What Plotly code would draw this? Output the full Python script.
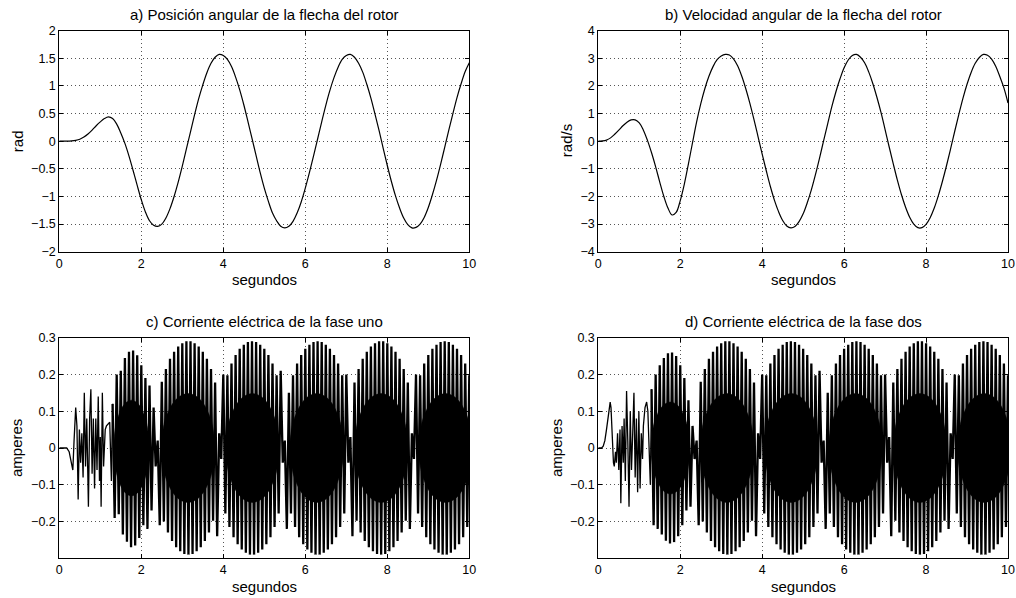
import plotly.graph_objects as go

W, H = 1016, 598

# ---------------- data ----------------
t_smooth = [round(0.1 * i, 1) for i in range(101)]

pos = [0, 0, 0.0, 0.005, 0.015, 0.035, 0.075, 0.13, 0.20, 0.28,
       0.35, 0.41, 0.44, 0.41, 0.31, 0.15, -0.04, -0.27, -0.53, -0.80,
       -1.06, -1.28, -1.44, -1.52, -1.54, -1.50, -1.39, -1.22, -1.00, -0.74,
       -0.45, -0.14, 0.17, 0.48, 0.77, 1.02, 1.24, 1.41, 1.52, 1.57,
       1.55, 1.48, 1.35, 1.16, 0.93, 0.66, 0.36, 0.05, -0.26, -0.57,
       -0.85, -1.09, -1.30, -1.44, -1.54, -1.57, -1.54, -1.45, -1.30, -1.10,
       -0.85, -0.57, -0.27, 0.04, 0.35, 0.65, 0.92, 1.15, 1.34, 1.48,
       1.55, 1.57, 1.52, 1.41, 1.25, 1.03, 0.78, 0.49, 0.19, -0.13,
       -0.44, -0.73, -0.99, -1.21, -1.39, -1.51, -1.57, -1.56, -1.50, -1.38,
       -1.20, -0.97, -0.71, -0.42, -0.11, 0.20, 0.50, 0.79, 1.04, 1.26,
       1.42]

vel = [0, 0.01, 0.04, 0.12, 0.25, 0.40, 0.56, 0.69, 0.77, 0.77,
       0.66, 0.40, 0.03, -0.42, -0.93, -1.48, -2.00, -2.42, -2.67, -2.58,
       -2.15, -1.55, -0.82, -0.05, 0.70, 1.35, 1.90, 2.35, 2.70, 2.95,
       3.08, 3.14, 3.12, 2.98, 2.73, 2.36, 1.90, 1.37, 0.78, 0.16,
       -0.47, -1.07, -1.64, -2.14, -2.55, -2.87, -3.07, -3.14, -3.09, -2.91,
       -2.63, -2.23, -1.76, -1.21, -0.61, 0.02, 0.64, 1.25, 1.79, 2.26,
       2.66, 2.94, 3.10, 3.14, 3.04, 2.84, 2.51, 2.09, 1.59, 1.04,
       0.42, -0.21, -0.82, -1.41, -1.94, -2.39, -2.75, -3.00, -3.13, -3.13,
       -3.01, -2.77, -2.42, -1.97, -1.45, -0.88, -0.27, 0.36, 0.97, 1.55,
       2.06, 2.49, 2.82, 3.03, 3.14, 3.11, 2.97, 2.71, 2.34, 1.93,
       1.38]

# phase currents: irregular start (explicit times) ...
i1_early_t = [0, 0.18, 0.24, 0.30, 0.33, 0.36, 0.40, 0.43, 0.46, 0.49,
              0.52, 0.55, 0.58, 0.61, 0.64, 0.67, 0.71, 0.74, 0.77, 0.80,
              0.83, 0.86, 0.89, 0.92, 0.95, 0.98, 1.00, 1.02, 1.05, 1.08,
              1.12, 1.15, 1.20, 1.23, 1.27]
i1_early_v = [0, 0, -0.01, -0.05, -0.06, 0.02, 0.11, 0.06, -0.14, 0.05,
              -0.04, 0.04, -0.08, 0.15, -0.05, 0.08, -0.16, 0.08, 0.16, -0.07,
              0.08, -0.11, 0.08, -0.06, 0.14, -0.09, 0.03, -0.16, 0.15, -0.05,
              0.05, 0.06, 0.065, 0.07, -0.09]

i2_early_t = [0, 0.08, 0.12, 0.16, 0.20, 0.24, 0.27, 0.29, 0.31, 0.34,
              0.37, 0.39, 0.42, 0.44, 0.47, 0.50, 0.53, 0.55, 0.58, 0.61,
              0.63, 0.66, 0.69, 0.72, 0.75, 0.78, 0.81, 0.84, 0.87, 0.90,
              0.93, 0.96, 0.99, 1.02, 1.05, 1.08, 1.10, 1.14, 1.18, 1.21,
              1.24, 1.27]
i2_early_v = [0, 0, 0.005, 0.02, 0.05, 0.09, 0.12, 0.125, 0.11, 0.03,
              -0.04, -0.05, -0.01, -0.04, 0.04, -0.06, 0.05, -0.15, 0.06, -0.04,
              0.08, -0.09, 0.155, 0.02, -0.16, 0.10, -0.06, 0.04, 0.15, -0.08,
              0.08, -0.12, 0.10, -0.11, 0.04, -0.03, 0.06, 0.11, 0.125, 0.10,
              -0.02, -0.10]

# ... then samples every 0.05 s, from t = 1.30 s (sample index 26) to 10 s
dt_samp = 0.05
first_idx = 26
i1_lobe1 = [0.12, -0.19, 0.20, -0.18, 0.21, -0.235, 0.245, -0.255, 0.262, -0.27,
            0.265, -0.265, 0.252, -0.245, 0.225, -0.21, 0.19, -0.22, 0.17, -0.17,
            0.11, -0.05]
i2_lobe1 = [0.16, -0.21, 0.20, -0.22, 0.225, -0.235, 0.245, -0.252, 0.258, -0.26,
            0.26, -0.256, 0.25, -0.24, 0.225, -0.21, 0.19, -0.17, 0.13, -0.16,
            0.06, -0.03]
i_tail = [0.02, -0.21, 0.18, -0.20, 0.215, -0.23, 0.243, -0.253, 0.262, -0.27,
          0.276, -0.281, 0.285, -0.288, 0.29, -0.29, 0.29, -0.288, 0.285, -0.281,
          0.276, -0.27, 0.262, -0.253, 0.243, -0.23, 0.215, -0.198, 0.178, -0.24,
          0.04, -0.03, 0.20, -0.178, 0.198, -0.215, 0.23, -0.243, 0.253, -0.262,
          0.27, -0.276, 0.281, -0.285, 0.288, -0.29, 0.29, -0.29, 0.288, -0.285,
          0.281, -0.276, 0.27, -0.262, 0.253, -0.243, 0.23, -0.215, 0.198, -0.178,
          0.21, -0.04, 0.02, -0.22, 0.15, -0.178, 0.198, -0.215, 0.23, -0.243,
          0.253, -0.262, 0.27, -0.276, 0.281, -0.285, 0.288, -0.29, 0.29, -0.29,
          0.288, -0.285, 0.281, -0.276, 0.27, -0.262, 0.253, -0.243, 0.23, -0.215,
          0.198, -0.178, 0.20, -0.04, 0.03, -0.24, 0.178, -0.198, 0.215, -0.23,
          0.243, -0.253, 0.262, -0.27, 0.276, -0.281, 0.285, -0.288, 0.29, -0.29,
          0.29, -0.288, 0.285, -0.281, 0.276, -0.27, 0.262, -0.253, 0.243, -0.23,
          0.215, -0.198, 0.178, -0.22, 0.04, -0.03, 0.20, -0.178, 0.198, -0.215,
          0.23, -0.243, 0.253, -0.262, 0.27, -0.276, 0.281, -0.285, 0.288, -0.29,
          0.29, -0.29, 0.288, -0.285, 0.281, -0.276, 0.27, -0.262, 0.253, -0.243,
          0.23, -0.215, 0.198]

# dense dark core of each current lobe
core1_center = [1.76, 3.14, 4.71, 6.28, 7.85, 9.42]
core1_halfw = [0.43, 0.65, 0.65, 0.65, 0.65, 0.65]
core1_height = [0.13, 0.148, 0.148, 0.148, 0.148, 0.148]
core2_center = [1.76, 3.14, 4.71, 6.28, 7.85, 9.42]
core2_halfw = [0.47, 0.65, 0.65, 0.65, 0.65, 0.65]
core2_height = [0.125, 0.148, 0.148, 0.148, 0.148, 0.148]
core_shape_dt = [-1, -0.97, -0.92, -0.85, -0.69, -0.54, -0.31, 0, 0.31, 0.54, 0.69, 0.85, 0.92, 0.97, 1]
core_shape_amp = [0, 0.24, 0.39, 0.53, 0.72, 0.84, 0.95, 1, 0.95, 0.84, 0.72, 0.53, 0.39, 0.24, 0]

x_ticks = [0, 2, 4, 6, 8, 10]
ya_ticks = [-2, -1.5, -1, -0.5, 0, 0.5, 1, 1.5, 2]
yb_ticks = [-4, -3, -2, -1, 0, 1, 2, 3, 4]
yc_ticks = [-0.2, -0.1, 0, 0.1, 0.2, 0.3]

titles = ["a) Posición angular de la flecha del rotor",
          "b) Velocidad angular de la flecha del rotor",
          "c) Corriente eléctrica de la fase uno",
          "d) Corriente eléctrica de la fase dos"]
ylabels = ["rad", "rad/s", "amperes", "amperes"]
xlabel = "segundos"

# ---------------- build ----------------
samp_t = [round((first_idx + k) * dt_samp, 2) for k in range(len(i1_lobe1) + len(i_tail))]
i1_lobes_v = i1_lobe1 + i_tail
i2_lobes_v = i2_lobe1 + i_tail


def core_polys(centers, halfw, heights):
    xs, ys = [], []
    for c, hw, h in zip(centers, halfw, heights):
        up_x = [c + d * hw for d in core_shape_dt]
        up_y = [a * h for a in core_shape_amp]
        xs += up_x + up_x[::-1] + [None]
        ys += up_y + [-a for a in up_y[::-1]] + [None]
    return xs, ys


fig = go.Figure()
smooth_line = dict(color="black", width=1.2, shape="spline")
thin_line = dict(color="black", width=1.3)
thick_line = dict(color="black", width=2.3)
fig.add_trace(go.Scatter(x=t_smooth, y=pos, mode="lines", line=smooth_line,
                         xaxis="x", yaxis="y", showlegend=False))
fig.add_trace(go.Scatter(x=t_smooth, y=vel, mode="lines", line=smooth_line,
                         xaxis="x2", yaxis="y2", showlegend=False))
for (cx, cy), ax_x, ax_y in [(core_polys(core1_center, core1_halfw, core1_height), "x3", "y3"),
                             (core_polys(core2_center, core2_halfw, core2_height), "x4", "y4")]:
    fig.add_trace(go.Scatter(x=cx, y=cy, mode="lines", fill="toself", fillcolor="black",
                             line=dict(color="black", width=0.5, shape="spline"),
                             xaxis=ax_x, yaxis=ax_y, showlegend=False, hoverinfo="skip"))
for et, ev, lv, ax_x, ax_y in [(i1_early_t, i1_early_v, i1_lobes_v, "x3", "y3"),
                               (i2_early_t, i2_early_v, i2_lobes_v, "x4", "y4")]:
    # irregular start drawn thin, lobes drawn with heavier strokes (shared joint point)
    fig.add_trace(go.Scatter(x=et + samp_t[:1], y=ev + lv[:1], mode="lines", line=thin_line,
                             xaxis=ax_x, yaxis=ax_y, showlegend=False))
    fig.add_trace(go.Scatter(x=samp_t, y=lv, mode="lines", line=thick_line,
                             xaxis=ax_x, yaxis=ax_y, showlegend=False))

FONT = "Liberation Sans, Arial, Helvetica, sans-serif"


def px_x(v):
    return v / W


def px_y(v):
    return 1 - v / H


def axis(domain, rng, tickvals, anchor):
    return dict(domain=domain, range=rng, tickvals=tickvals, anchor=anchor, automargin=False,
                showline=True, linecolor="black", linewidth=1, mirror="ticks",
                ticks="inside", ticklen=4, tickwidth=1, tickcolor="black",
                showgrid=True, gridcolor="#555555", griddash="1px,3px", gridwidth=1,
                zeroline=False, tickfont=dict(family=FONT, size=12.5, color="black"))


L1, R1, L2, R2 = 59.3, 469.3, 598.3, 1008
T1, B1, T2, B2 = 30.7, 251.7, 337.7, 558.3
dxl = [px_x(L1), px_x(R1)]
dxr = [px_x(L2), px_x(R2)]
dyt = [px_y(B1), px_y(T1)]
dyb = [px_y(B2), px_y(T2)]

fig.update_layout(
    width=W, height=H, margin=dict(l=0, r=0, t=0, b=0, pad=0, autoexpand=False),
    paper_bgcolor="white", plot_bgcolor="white",
    xaxis=axis(dxl, [0, 10], x_ticks, "y"),
    yaxis=axis(dyt, [-2, 2], ya_ticks, "x"),
    xaxis2=axis(dxr, [0, 10], x_ticks, "y2"),
    yaxis2=axis(dyt, [-4, 4], yb_ticks, "x2"),
    xaxis3=axis(dxl, [0, 10], x_ticks, "y3"),
    yaxis3=axis(dyb, [-0.3, 0.3], yc_ticks, "x3"),
    xaxis4=axis(dxr, [0, 10], x_ticks, "y4"),
    yaxis4=axis(dyb, [-0.3, 0.3], yc_ticks, "x4"),
)

ann = []
centers_x = [(L1 + R1) / 2, (L2 + R2) / 2, (L1 + R1) / 2, (L2 + R2) / 2]
title_y = [15, 15, 321.5, 321.5]
xlab_y = [279, 279, 586, 586]
ylab_x = [17, 566, 17, 557]
ylab_y = [(T1 + B1) / 2, (T1 + B1) / 2, (T2 + B2) / 2, (T2 + B2) / 2]
for i in range(4):
    ann.append(dict(text=titles[i], x=px_x(centers_x[i]), y=px_y(title_y[i]), xref="paper", yref="paper",
                    xanchor="center", yanchor="middle", showarrow=False,
                    font=dict(family=FONT, size=15, color="black")))
    ann.append(dict(text=xlabel, x=px_x(centers_x[i]), y=px_y(xlab_y[i]), xref="paper", yref="paper",
                    xanchor="center", yanchor="middle", showarrow=False,
                    font=dict(family=FONT, size=15, color="black")))
    ann.append(dict(text=ylabels[i], x=px_x(ylab_x[i]), y=px_y(ylab_y[i]), xref="paper", yref="paper",
                    xanchor="center", yanchor="middle", showarrow=False, textangle=-90,
                    font=dict(family=FONT, size=15, color="black")))
fig.update_layout(annotations=ann)

fig.write_html("out.html", config={"displayModeBar": False},
               post_script="document.body.style.margin='0';document.body.style.overflow='hidden';")
